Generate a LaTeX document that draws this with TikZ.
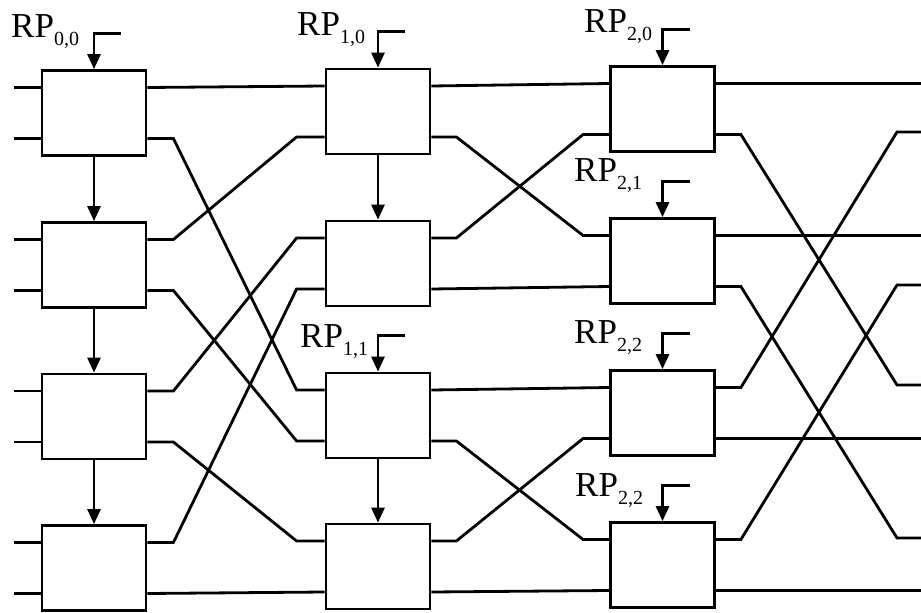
\documentclass[tikz,border=0pt]{standalone}
\usepackage{fontspec}
\setmainfont{Liberation Serif}
\usetikzlibrary{arrows.meta,positioning}

\newcommand{\rp}[1]{RP\raisebox{-8pt}{\fontsize{20}{21}\selectfont #1}}

\tikzset{
  pe/.style={draw, rectangle, line width=2.8pt, minimum width=104pt, minimum height=85pt, inner sep=0pt},
  wire/.style={line width=2.8pt},
  flow/.style={line width=2.8pt, -{Triangle[length=15pt,width=13pt]}},
  rplab/.style={anchor=base west, inner sep=0pt, font=\fontsize{35}{38}\selectfont},
}

\begin{document}
\begin{tikzpicture}[x=1pt,y=-1pt]
\useasboundingbox (0,0) rectangle (921,613);

% Stage 0
\node[pe] (c0r0) at (94,113) {};
\node[pe] (c0r1) at (94,265) {};
\node[pe] (c0r2) at (94,416.5) {};
\node[pe] (c0r3) at (94,568) {};

% Stage 1
\node[pe] (c1r0) at (378,111.5) {};
\node[pe] (c1r1) at (378,263.5) {};
\node[pe] (c1r2) at (378,415.5) {};
\node[pe] (c1r3) at (378,566.5) {};

% Stage 2
\node[pe] (c2r0) at (662.5,109) {};
\node[pe] (c2r1) at (662.5,261) {};
\node[pe] (c2r2) at (662.5,413) {};
\node[pe] (c2r3) at (662.5,565) {};

% Outputs
\coordinate (out0) at (921,83.5);
\coordinate (out1) at (921,132);
\coordinate (out2) at (921,235.5);
\coordinate (out3) at (921,285);
\coordinate (out4) at (921,385);
\coordinate (out5) at (921,438.5);
\coordinate (out6) at (921,538);
\coordinate (out7) at (921,590.5);

% Labels
\node[rplab] (l00) at (11,37) {\rp{0,0}};
\node[rplab] (l10) at (297,35) {\rp{1,0}};
\node[rplab] (l20) at (584,32) {\rp{2,0}};
\node[rplab] (l21) at (574,181) {\rp{2,1}};
\node[rplab] (l11) at (300,347) {\rp{1,1}};
\node[rplab] (l22) at (574,343) {\rp{2,2}};
\node[rplab] (l22b) at (575,496) {\rp{2,2}};

% Control arrows
\draw[flow] ([xshift=27pt,yshift=36pt]c0r0.north) -| (c0r0.north);
\draw[flow] ([xshift=27pt,yshift=36pt]c1r0.north) -| (c1r0.north);
\draw[flow] ([xshift=27pt,yshift=36pt]c2r0.north) -| (c2r0.north);
\draw[flow] ([xshift=27pt,yshift=36pt]c2r1.north) -| (c2r1.north);
\draw[flow] ([xshift=27pt,yshift=36pt]c1r2.north) -| (c1r2.north);
\draw[flow] ([xshift=27pt,yshift=36pt]c2r2.north) -| (c2r2.north);
\draw[flow] ([xshift=27pt,yshift=36pt]c2r3.north) -| (c2r3.north);

% Vertical arrows
\draw[flow] (c0r0) -- (c0r1);
\draw[flow] (c0r1) -- (c0r2);
\draw[flow] (c0r2) -- (c0r3);
\draw[flow] (c1r0) -- (c1r1);
\draw[flow] (c1r2) -- (c1r3);

% Inputs
\draw[wire] ([yshift=25.5pt]c0r0.west) -- ++(-27,0);
\draw[wire] ([yshift=-25.5pt]c0r0.west) -- ++(-27,0);
\draw[wire] ([yshift=25.5pt]c0r1.west) -- ++(-27,0);
\draw[wire] ([yshift=-25.5pt]c0r1.west) -- ++(-27,0);
\draw[wire] ([yshift=25.5pt]c0r2.west) -- ++(-27,0);
\draw[wire] ([yshift=-25.5pt]c0r2.west) -- ++(-27,0);
\draw[wire] ([yshift=25.5pt]c0r3.west) -- ++(-27,0);
\draw[wire] ([yshift=-25.5pt]c0r3.west) -- ++(-27,0);

% Stage 0 -> stage 1
\draw[wire] ([yshift=25.5pt]c0r0.east) -- ([yshift=25.5pt]c1r0.west);
\draw[wire] ([yshift=-25.5pt]c0r0.east) -- ++(26,0) -- ([xshift=-28pt,yshift=25.5pt]c1r2.west) -- ([yshift=25.5pt]c1r2.west);
\draw[wire] ([yshift=25.5pt]c0r1.east) -- ++(26,0) -- ([xshift=-28pt,yshift=-25.5pt]c1r0.west) -- ([yshift=-25.5pt]c1r0.west);
\draw[wire] ([yshift=-25.5pt]c0r1.east) -- ++(26,0) -- ([xshift=-28pt,yshift=-25.5pt]c1r2.west) -- ([yshift=-25.5pt]c1r2.west);
\draw[wire] ([yshift=25.5pt]c0r2.east) -- ++(26,0) -- ([xshift=-28pt,yshift=25.5pt]c1r1.west) -- ([yshift=25.5pt]c1r1.west);
\draw[wire] ([yshift=-25.5pt]c0r2.east) -- ++(26,0) -- ([xshift=-28pt,yshift=25.5pt]c1r3.west) -- ([yshift=25.5pt]c1r3.west);
\draw[wire] ([yshift=25.5pt]c0r3.east) -- ++(26,0) -- ([xshift=-28pt,yshift=-25.5pt]c1r1.west) -- ([yshift=-25.5pt]c1r1.west);
\draw[wire] ([yshift=-25.5pt]c0r3.east) -- ([yshift=-25.5pt]c1r3.west);

% Stage 1 -> stage 2
\draw[wire] ([yshift=25.5pt]c1r0.east) -- ([yshift=25.5pt]c2r0.west);
\draw[wire] ([yshift=-25.5pt]c1r0.east) -- ++(25,0) -- ([xshift=-26pt,yshift=25.5pt]c2r1.west) -- ([yshift=25.5pt]c2r1.west);
\draw[wire] ([yshift=25.5pt]c1r1.east) -- ++(25,0) -- ([xshift=-26pt,yshift=-25.5pt]c2r0.west) -- ([yshift=-25.5pt]c2r0.west);
\draw[wire] ([yshift=-25.5pt]c1r1.east) -- ([yshift=-25.5pt]c2r1.west);
\draw[wire] ([yshift=25.5pt]c1r2.east) -- ([yshift=25.5pt]c2r2.west);
\draw[wire] ([yshift=-25.5pt]c1r2.east) -- ++(25,0) -- ([xshift=-26pt,yshift=25.5pt]c2r3.west) -- ([yshift=25.5pt]c2r3.west);
\draw[wire] ([yshift=25.5pt]c1r3.east) -- ++(25,0) -- ([xshift=-26pt,yshift=-25.5pt]c2r2.west) -- ([yshift=-25.5pt]c2r2.west);
\draw[wire] ([yshift=-25.5pt]c1r3.east) -- ([yshift=-25.5pt]c2r3.west);

% Stage 2 -> outputs
\draw[wire] ([yshift=25.5pt]c2r0.east) -- (out0);
\draw[wire] ([yshift=-25.5pt]c2r0.east) -- ++(25,0) -- ([xshift=-24pt]out4) -- (out4);
\draw[wire] ([yshift=25.5pt]c2r1.east) -- (out2);
\draw[wire] ([yshift=-25.5pt]c2r1.east) -- ++(25,0) -- ([xshift=-24pt]out6) -- (out6);
\draw[wire] ([yshift=25.5pt]c2r2.east) -- ++(25,0) -- ([xshift=-24pt]out1) -- (out1);
\draw[wire] ([yshift=-25.5pt]c2r2.east) -- (out5);
\draw[wire] ([yshift=25.5pt]c2r3.east) -- ++(25,0) -- ([xshift=-24pt]out3) -- (out3);
\draw[wire] ([yshift=-25.5pt]c2r3.east) -- (out7);
\end{tikzpicture}
\end{document}
